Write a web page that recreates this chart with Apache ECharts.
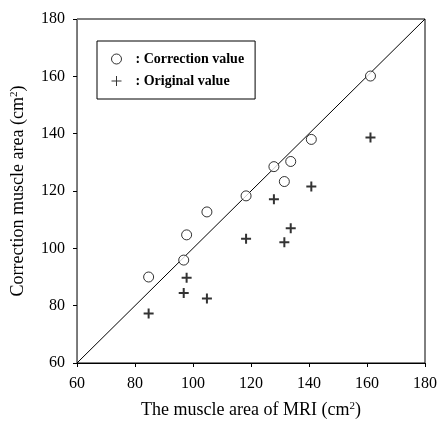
<!DOCTYPE html>
<html>
<head>
<meta charset="utf-8">
<script src="https://cdn.jsdelivr.net/npm/echarts@6/dist/echarts.min.js"></script>
<style>
  html, body { margin: 0; padding: 0; background: #fff; }
  #chart { width: 440px; height: 424px; }
</style>
</head>
<body>
<div id="chart"></div>
<script>
// MRI muscle area (x) and measured values (y)
var mriArea = [84.7, 96.8, 97.8, 104.8, 118.3, 127.9, 131.5, 133.7, 140.8, 161.2];
var correctionValue = [90.0, 95.9, 104.7, 112.7, 118.3, 128.5, 123.3, 130.3, 138.0, 160.1];
var originalValue = [77.3, 84.4, 89.7, 82.5, 103.3, 117.1, 102.1, 107.0, 121.6, 138.7];
var seriesNames = ['Correction value', 'Original value'];
var axisTicks = [60, 80, 100, 120, 140, 160, 180];
var identityLine = [60, 180];

var myChart = echarts.init(document.getElementById('chart'));

function pairs(xs, ys) {
    return xs.map(function (x, i) { return [x, ys[i]]; });
}

var font = 'Liberation Serif, Times New Roman, serif';
var crossPath = 'path://M4,0 H6 V4 H10 V6 H6 V10 H4 V6 H0 V4 H4 Z';
var thinCross = 'path://M4.5,0 H5.5 V4.5 H10 V5.5 H5.5 V10 H4.5 V5.5 H0 V4.5 H4.5 Z';
var supStyle = { fontFamily: font, fontSize: 11, color: '#000', verticalAlign: 'top', padding: [0, 0, 7, 0] };

var option = {
    backgroundColor: '#fff',
    animation: false,
    textStyle: { fontFamily: font, color: '#000' },
    grid: {
        left: 77, right: 13, top: 19, bottom: 56,
        show: true, borderColor: '#000', borderWidth: 1
    },
    legend: {
        data: [
            { name: seriesNames[0], icon: 'circle', itemStyle: { color: '#fff', borderColor: '#000', borderWidth: 1 } },
            { name: seriesNames[1], icon: thinCross, itemStyle: { color: '#000', borderWidth: 0 } }
        ],
        orient: 'vertical',
        left: 97, top: 41,
        padding: [10, 11, 10, 14],
        itemGap: 6,
        itemWidth: 10,
        itemHeight: 10,
        borderColor: '#000',
        borderWidth: 1,
        formatter: function (name) { return ': ' + name; },
        textStyle: { fontFamily: font, fontSize: 14, fontWeight: 'bold', color: '#000', lineHeight: 16, padding: [0, 0, 0, 9] }
    },
    xAxis: {
        type: 'value',
        min: axisTicks[0], max: axisTicks[axisTicks.length - 1], interval: 20,
        name: 'The muscle area of MRI (cm{sup|2})',
        nameLocation: 'middle',
        nameGap: 38,
        nameTextStyle: { fontFamily: font, fontSize: 18, color: '#000', rich: { sup: supStyle } },
        axisLine: { lineStyle: { color: '#000', width: 1 } },
        axisTick: { show: true, length: 4, lineStyle: { color: '#000' } },
        axisLabel: { fontFamily: font, fontSize: 16, color: '#000', margin: 13 },
        splitLine: { show: false }
    },
    yAxis: {
        type: 'value',
        min: axisTicks[0], max: axisTicks[axisTicks.length - 1], interval: 20,
        name: 'Correction muscle area (cm{sup|2})',
        nameLocation: 'middle',
        nameGap: 50,
        nameTextStyle: { fontFamily: font, fontSize: 18, color: '#000', rich: { sup: supStyle } },
        axisLine: { show: true, lineStyle: { color: '#777', width: 1 } },
        axisTick: { show: true, length: 4, lineStyle: { color: '#000' } },
        axisLabel: { fontFamily: font, fontSize: 16, color: '#000', margin: 12 },
        splitLine: { show: false }
    },
    series: [
        {
            name: 'identity',
            type: 'line',
            data: [[identityLine[0], identityLine[0]], [identityLine[1], identityLine[1]]],
            symbol: 'none',
            silent: true,
            lineStyle: { color: '#000', width: 1 },
            z: 1
        },
        {
            name: seriesNames[0],
            type: 'scatter',
            data: pairs(mriArea, correctionValue),
            symbol: 'circle',
            symbolSize: 10,
            itemStyle: { color: '#fff', borderColor: '#000', borderWidth: 1 },
            z: 3
        },
        {
            name: seriesNames[1],
            type: 'scatter',
            data: pairs(mriArea, originalValue),
            symbol: crossPath,
            symbolSize: 10,
            itemStyle: { color: '#000' },
            z: 3
        }
    ]
};

myChart.setOption(option);
</script>
</body>
</html>
